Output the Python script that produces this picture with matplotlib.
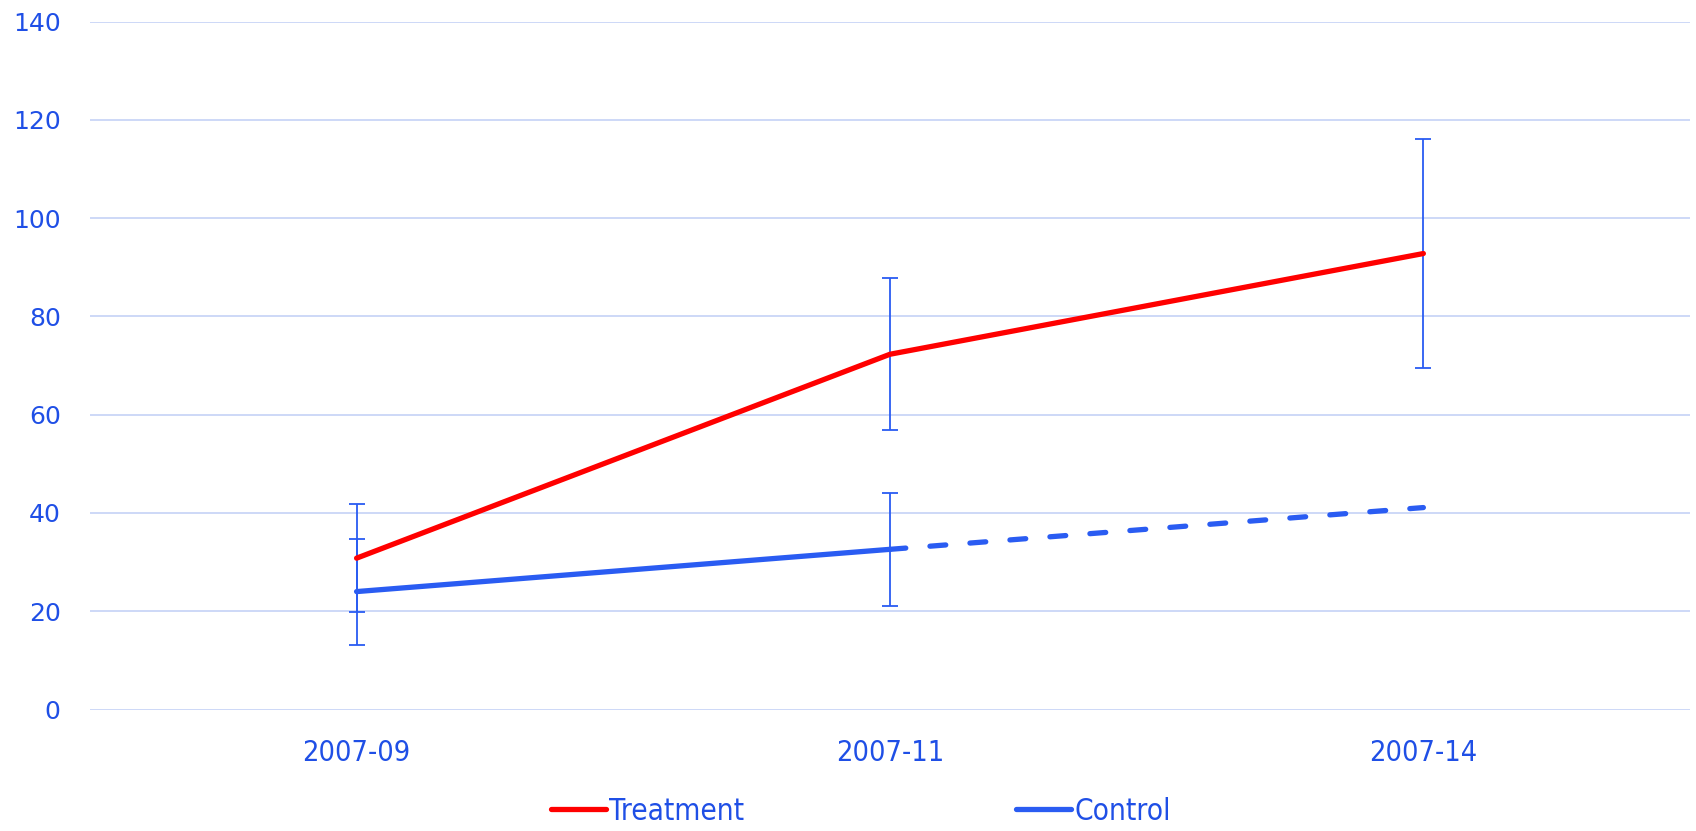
import matplotlib
matplotlib.use("Agg")
import matplotlib.pyplot as plt
from matplotlib import font_manager

# DATA
categories = ["2007-09", "2007-11", "2007-14"]
treatment = [30.8, 72.3, 92.8]
treatment_err = [11.0, 15.45, 23.3]
control = [24.0, 32.6, 41.1]
control_err = [10.8, 11.45, 0]

red = "#ff0000"
blue = "#2a5cf2"
text_blue = "#1f4fe6"
grid_col = "#c9d5f7"

# look for a condensed face for the category / legend text
names = {(f.name, str(f.stretch)) for f in font_manager.fontManager.ttflist}
fams = {n for n, s in names}
if ("DejaVu Sans", "condensed") in names or ("DejaVu Sans", "semi-condensed") in names:
    narrow = {"family": "DejaVu Sans", "stretch": "condensed"}
    cat_size, leg_size = 20.7, 21.3
elif "Liberation Sans Narrow" in fams:
    narrow = {"family": "Liberation Sans Narrow", "stretch": "normal"}
    cat_size, leg_size = 22.5, 23
else:
    narrow = {"family": "Liberation Sans", "stretch": "normal"}
    cat_size, leg_size = 19, 20

fig = plt.figure(figsize=(16.96, 8.31), dpi=100)
ax = fig.add_axes([0.053, 0.1462, 0.9435, 0.8278])

x = list(range(len(categories)))

# error bars (all drawn in blue)
ax.errorbar(x, treatment, yerr=treatment_err, fmt="none", ecolor=blue,
            elinewidth=1.3, capsize=6, capthick=1.3, zorder=2)
ax.errorbar(x[:2], control[:2], yerr=control_err[:2], fmt="none", ecolor=blue,
            elinewidth=1.3, capsize=6, capthick=1.3, zorder=2)

# series lines
ax.plot(x, treatment, color=red, lw=3.8, solid_capstyle="round", zorder=3,
        label="Treatment")
ax.plot(x[:2], control[:2], color=blue, lw=3.8, solid_capstyle="round",
        zorder=3, label="Control")
dashed, = ax.plot(x[1:], control[1:], color=blue, lw=3.8, zorder=3,
                  dash_capstyle="round")
dashed.set_dashes([3.0, 4.6])

ax.set_xlim(-0.5, 2.5)
ax.set_ylim(0, 140)
ax.set_yticks(range(0, 141, 20))
ax.set_xticks(x)
ax.set_xticklabels(categories, family=narrow["family"], stretch=narrow["stretch"],
                   fontsize=cat_size, color=text_blue)
for lab in ax.get_yticklabels():
    lab.set_fontsize(18)
    lab.set_color(text_blue)
ax.tick_params(axis="both", length=0)
ax.tick_params(axis="y", pad=21)
ax.tick_params(axis="x", pad=21)

ax.grid(axis="y", color=grid_col, lw=1.3)
ax.set_axisbelow(True)
for s in ax.spines.values():
    s.set_visible(False)

handles, labels = ax.get_legend_handles_labels()
leg = fig.legend(handles, labels, loc="center", bbox_to_anchor=(0.5077, 0.024),
                 ncol=2, frameon=False, handlelength=1.85, handletextpad=0.1,
                 columnspacing=9.2,
                 prop={"family": narrow["family"], "stretch": narrow["stretch"],
                       "size": leg_size})
for t in leg.get_texts():
    t.set_color(text_blue)

fig.savefig("out.png", dpi=100)
